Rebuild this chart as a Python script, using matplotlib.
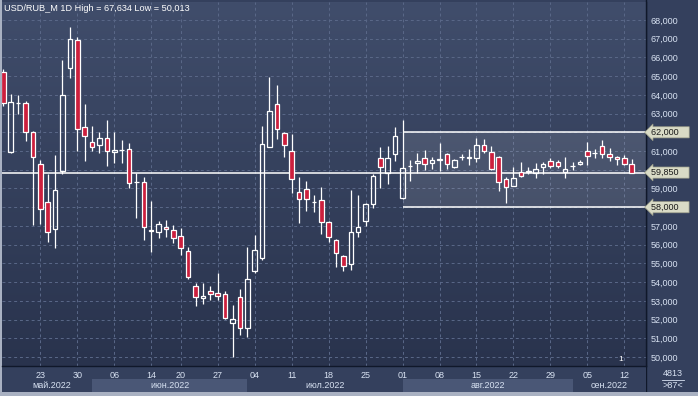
"""
USD/RUB_M daily candles, May - Sep 2022.
"""

import matplotlib.pyplot as plt
from matplotlib.colors import LinearSegmentedColormap
import numpy as np
import pandas as pd

# trading days (Russian holiday 13 June skipped)
dates = pd.bdate_range("2022-05-16", "2022-09-13").drop(pd.Timestamp("2022-06-13"))

opens = [65.24, 60.97, 63.55, 63.55, 62.00, 60.29, 58.29, 56.82, 59.95, 65.42,
         66.93, 62.27, 61.47, 61.32, 61.68, 60.93, 61.04, 61.09, 59.35, 59.36,
         56.78, 56.66, 56.96, 56.78, 56.46, 55.66, 53.79, 53.13, 53.51, 53.41,
         53.36, 51.80, 53.19, 51.53, 54.61, 55.27, 61.23, 63.51, 61.95, 61.00,
         58.83, 58.96, 58.28, 58.38, 57.19, 56.25, 55.41, 54.95, 56.69, 57.28,
         58.17, 60.61, 59.81, 60.83, 58.48, 60.18, 60.34, 60.61, 60.34, 60.52,
         60.83, 60.16, 60.66, 60.64, 60.61, 61.32, 60.93, 60.70, 59.49, 59.15,
         59.86, 59.88, 59.84, 60.16, 60.48, 60.40, 59.90, 60.19, 60.29, 61.00,
         60.89, 61.27, 60.83, 60.70, 60.61, 60.31]
highs = [65.40, 64.05, 64.00, 63.67, 62.05, 60.52, 59.76, 60.79, 65.86, 67.634,
         67.08, 63.51, 62.34, 62.00, 62.66, 62.03, 61.59, 61.41, 59.81, 59.63,
         58.33, 57.24, 57.33, 57.05, 56.90, 55.89, 53.97, 53.97, 53.81, 54.50,
         53.52, 52.78, 53.61, 55.89, 56.51, 62.34, 64.97, 64.53, 62.03, 61.91,
         59.60, 59.40, 58.65, 59.10, 57.26, 56.30, 55.45, 58.92, 58.65, 58.24,
         59.76, 61.20, 61.27, 62.30, 62.66, 60.52, 60.91, 61.06, 60.70, 61.44,
         60.91, 60.56, 60.83, 61.11, 61.68, 61.64, 61.27, 60.74, 59.63, 60.13,
         60.43, 60.13, 60.34, 60.43, 60.64, 60.52, 60.67, 60.43, 60.52, 61.47,
         61.09, 61.59, 61.15, 60.75, 60.79, 60.56]
lows = [63.40, 60.90, 62.98, 61.54, 57.05, 57.09, 56.16, 55.80, 59.76, 64.92,
        61.00, 60.48, 61.02, 60.88, 60.22, 60.38, 60.38, 59.01, 57.41, 56.23,
        55.63, 56.35, 56.42, 56.10, 55.45, 54.16, 52.72, 52.83, 53.04, 53.06,
        52.05, 50.013, 51.17, 51.06, 54.47, 55.20, 61.20, 61.63, 60.70, 58.78,
        57.14, 57.81, 57.72, 56.55, 56.16, 54.83, 54.62, 54.64, 56.42, 57.00,
        57.97, 59.04, 59.25, 60.48, 58.45, 59.42, 59.84, 59.99, 60.04, 59.96,
        60.02, 60.08, 60.52, 60.27, 60.43, 60.88, 59.99, 58.87, 58.21, 59.12,
        59.63, 59.76, 59.54, 59.76, 60.08, 60.11, 59.58, 59.99, 60.27, 60.25,
        60.61, 60.61, 60.48, 60.25, 60.27, 59.85]
closes = [63.55, 63.60, 63.57, 62.00, 60.70, 57.89, 56.66, 58.90, 64.00, 66.99,
          62.16, 61.82, 61.20, 61.68, 61.00, 61.06, 61.06, 59.27, 59.37, 56.94,
          56.73, 57.09, 56.82, 56.37, 55.80, 54.26, 53.22, 53.26, 53.36, 53.27,
          52.08, 52.04, 51.53, 54.15, 55.71, 61.36, 63.14, 62.16, 61.32, 59.49,
          58.42, 58.42, 58.30, 57.19, 56.42, 55.57, 54.88, 56.69, 56.93, 58.15,
          59.68, 60.16, 60.61, 61.83, 60.07, 60.22, 60.47, 60.29, 60.52, 60.58,
          60.29, 60.52, 60.68, 60.68, 61.32, 61.02, 60.04, 59.33, 59.06, 59.54,
          59.67, 59.92, 60.02, 60.31, 60.20, 60.20, 60.04, 60.21, 60.40, 60.75,
          60.91, 60.83, 60.70, 60.56, 60.29, 59.85]

tick_days = ["2022-05-23", "2022-05-30", "2022-06-06", "2022-06-14", "2022-06-20",
             "2022-06-27", "2022-07-04", "2022-07-11", "2022-07-18", "2022-07-25",
             "2022-08-01", "2022-08-08", "2022-08-15", "2022-08-22", "2022-08-29",
             "2022-09-05", "2022-09-12"]
month_names = ["май.2022", "июн.2022", "июл.2022", "авг.2022", "сен.2022"]
y_ticks = np.arange(50, 69)

last_price = 59.85
channel_top = 62.0
channel_bottom = 58.0
channel_start = "2022-08-01"

# colours
PANEL = "#34405d"
BAND = "#4a5776"
RED = "#cc1f3d"
GRID = "#5a6888"
TXT = "#d8e2f2"
TAG = "#d9dbc6"

W, H = 698, 396


def px(x0, y0, x1, y1):
    # pixel box (top-left origin) -> figure fraction
    return [x0 / W, 1 - y1 / H, (x1 - x0) / W, (y1 - y0) / H]


def fmt(v):
    return f"{v:.3f}".replace(".", ",")


fig = plt.figure(figsize=(W / 100, H / 100), dpi=100)
fig.patch.set_facecolor("#a9b1c2")
plt.rcParams["font.family"] = ["Liberation Sans", "DejaVu Sans"]

# panel background in pixel coords
bg = fig.add_axes(px(2, 0, 698, 392))
bg.set_facecolor(PANEL)
bg.set_xlim(2, 698)
bg.set_ylim(392, 0)
bg.set_xticks([])
bg.set_yticks([])
for s in bg.spines.values():
    s.set_visible(False)
bg.set_zorder(0)

ax = fig.add_axes(px(2, 2, 646, 366))
ax.set_zorder(3)
axb = fig.add_axes(px(2, 366, 646, 392))
axb.set_zorder(1)

x = np.arange(len(dates))
o = np.array(opens)
h = np.array(highs)
l = np.array(lows)
c = np.array(closes)
xlim = (-0.18, 86.93)
ylim = (49.52, 68.96)

# gradient background
cmap = LinearSegmentedColormap.from_list("bg", ["#404d6b", "#29334d"])
ax.imshow(np.linspace(0, 1, 256).reshape(-1, 1), cmap=cmap, aspect="auto",
          extent=(xlim[0], xlim[1], ylim[0], ylim[1]), zorder=0)

ax.set_axisbelow(True)
ax.grid(True, color=GRID, linestyle=(0, (3, 3)), linewidth=0.7)

# channel
x0 = dates.get_loc(pd.Timestamp(channel_start))
ax.fill_between([x0, xlim[1]], channel_bottom, channel_top, color="white", alpha=0.1, lw=0, zorder=1)
ax.hlines([channel_top, channel_bottom], x0, xlim[1], color="white", lw=1.1, zorder=2)
ax.axhline(last_price, color="white", lw=1.1, zorder=2)

# candles
up = c >= o
top = np.maximum(o, c)
bot = np.minimum(o, c)
body = np.maximum(top - bot, 0.015)
ax.vlines(x, top, h, color="white", lw=0.9, zorder=3)
ax.vlines(x, l, bot, color="white", lw=0.9, zorder=3)
ax.bar(x[up], body[up], bottom=bot[up], width=0.62, facecolor="none",
       edgecolor="white", linewidth=0.9, zorder=4)
ax.bar(x[~up], body[~up], bottom=bot[~up], width=0.62, facecolor=RED,
       edgecolor="white", linewidth=0.9, zorder=4)

ax.set_xlim(*xlim)
ax.set_ylim(*ylim)

tags = (channel_top, last_price, channel_bottom)
tick_idx = [dates.get_loc(pd.Timestamp(d)) for d in tick_days]
ax.set_xticks(tick_idx, [pd.Timestamp(d).strftime("%d") for d in tick_days])
ax.yaxis.tick_right()
# the 62 and 58 labels sit under their price tags
ax.set_yticks(y_ticks, ["" if v in tags else fmt(v) for v in y_ticks])
ax.tick_params(axis="both", length=0, labelsize=6.5, colors=TXT)
ax.tick_params(axis="y", pad=3)
ax.tick_params(axis="x", pad=3.5)
for name, s in ax.spines.items():
    s.set_visible(name in ("right", "bottom"))
    s.set_color("#10182a")
    s.set_linewidth(1)

ax.text(0.003, 0.981, "USD/RUB_M 1D High = 67,634 Low = 50,013", transform=ax.transAxes,
        ha="left", va="center", fontsize=6.6, color="white", zorder=10)

# price tags on the right axis
for v in tags:
    ax.text(1.007, v, fmt(v) + "    ", transform=ax.get_yaxis_transform(),
            ha="left", va="center", fontsize=6.5, color="#1a1a1a", clip_on=False, zorder=10,
            bbox=dict(boxstyle="larrow,pad=0.12", facecolor=TAG, edgecolor="#9a9c88", lw=0.5))

ax.text(83.5, 49.85, "1", fontsize=6, color="white", ha="center", va="center", zorder=10)

# bottom panel: month bands and names
axb.set_xlim(*xlim)
axb.set_ylim(0, 1)
axb.set_facecolor(PANEL)
axb.set_xticks([])
axb.set_yticks([])
for s in axb.spines.values():
    s.set_visible(False)
starts = [0] + [i for i in range(1, len(dates)) if dates[i].month != dates[i - 1].month]
edges = starts + [xlim[1]]
for k, name in enumerate(month_names):
    a, b = max(edges[k], 1.0), edges[k + 1]
    if k % 2 == 1:
        axb.axvspan(edges[k], b, ymin=0, ymax=0.5, color=BAND, lw=0)
    axb.text((a + b) / 2, 0.25, name, ha="center", va="center", fontsize=6.5, color=TXT)

# corner box
bg.plot([646, 646], [0, 392], color="#10182a", lw=1)
bg.plot([662, 684], [379.5, 379.5], color=TXT, lw=0.6)
bg.text(673, 373, "4813", ha="center", va="center", fontsize=6.5, color=TXT)
bg.text(673, 386, ">87<", ha="center", va="center", fontsize=6.5, color=TXT)

plt.savefig("out.png", dpi=100, facecolor=fig.get_facecolor())
